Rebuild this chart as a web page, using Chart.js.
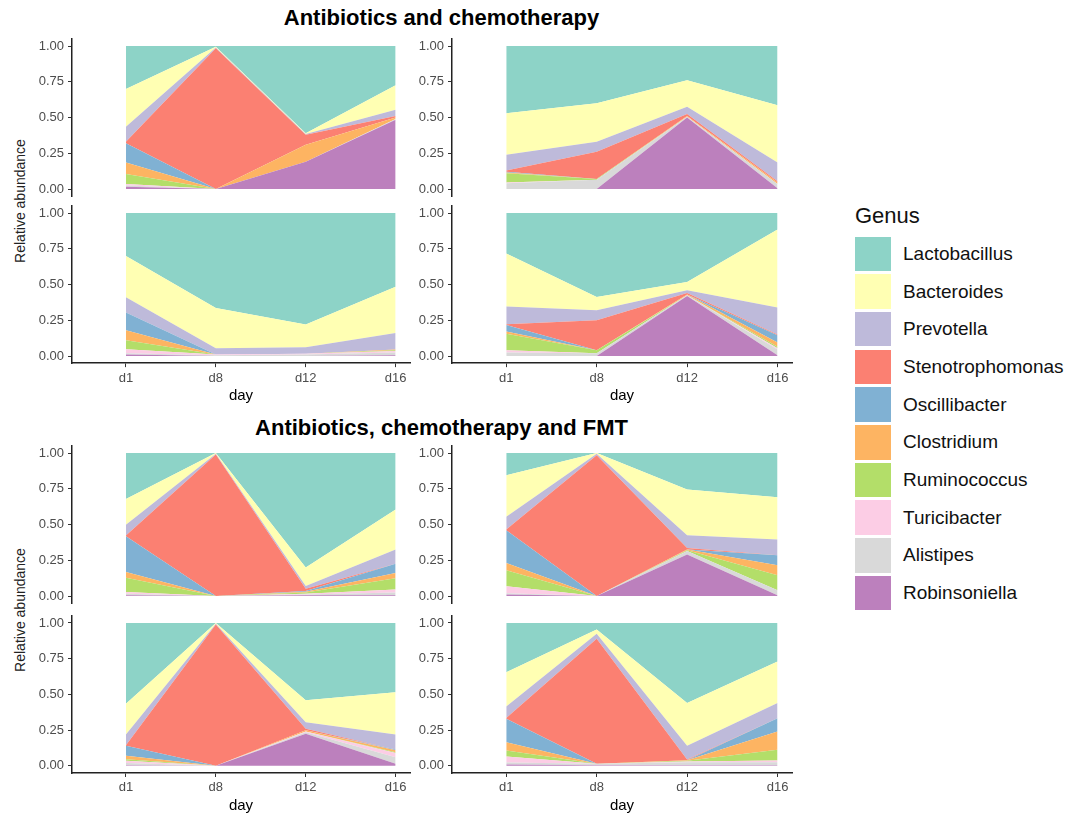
<!DOCTYPE html>
<html>
<head>
<meta charset="utf-8">
<title>Relative abundance by genus</title>
<script src="https://cdn.jsdelivr.net/npm/chart.js@4.4.1/dist/chart.umd.min.js"></script>
<style>
  body { margin: 0; background: #fff; font-family: "Liberation Sans", Arial, sans-serif; }
  #wrap { position: relative; width: 1083px; height: 815px; overflow: hidden; }
  canvas { position: absolute; }
  .title { position: absolute; left: 0; width: 883px; text-align: center; font-weight: bold;
           font-size: 22px; line-height: 26px; color: #000; }
  .ylab { position: absolute; font-size: 14px; color: #222; white-space: nowrap;
          transform: translate(-50%, -50%) rotate(-90deg); }
  #legend { position: absolute; left: 855px; top: 201px; color: #111; }
  #legend .head { font-size: 22px; line-height: 30px; margin-bottom: 4px; }
  #legend .item { display: flex; align-items: center; height: 37.7px; }
  #legend .key { width: 36px; height: 34.5px; margin-right: 12px; }
  #legend .lbl { font-size: 19px; }
</style>
</head>
<body>
<div id="wrap">
  <div class="title" style="top:5px">Antibiotics and chemotherapy</div>
  <div class="title" style="top:415px">Antibiotics, chemotherapy and FMT</div>
  <div class="ylab" style="left:20px; top:201px">Relative abundance</div>
  <div class="ylab" style="left:20px; top:610px">Relative abundance</div>

  <canvas id="p1" width="440" height="190" style="left:0; top:22px"></canvas>
  <canvas id="p2" width="420" height="190" style="left:400px; top:22px"></canvas>
  <canvas id="p3" width="440" height="225" style="left:0; top:190px"></canvas>
  <canvas id="p4" width="420" height="225" style="left:400px; top:190px"></canvas>
  <canvas id="p5" width="440" height="190" style="left:0; top:430px"></canvas>
  <canvas id="p6" width="420" height="190" style="left:400px; top:430px"></canvas>
  <canvas id="p7" width="440" height="215" style="left:0; top:600px"></canvas>
  <canvas id="p8" width="420" height="215" style="left:400px; top:600px"></canvas>

  <div id="legend"></div>
</div>

<script>
const days = ['d1', 'd8', 'd12', 'd16'];
const yTicks = [0, 0.25, 0.5, 0.75, 1];
const genera = ['Lactobacillus', 'Bacteroides', 'Prevotella', 'Stenotrophomonas', 'Oscillibacter',
                'Clostridium', 'Ruminococcus', 'Turicibacter', 'Alistipes', 'Robinsoniella'];
const colors = ['#8DD3C7', '#FFFFB3', '#BEBADA', '#FB8072', '#80B1D3',
                '#FDB462', '#B3DE69', '#FCCDE5', '#D9D9D9', '#BC80BD'];

// one row per genus (same order as genera), one column per day
// antibiotics and chemotherapy
const abxChemo1 = [
  [0.300, 0.005, 0.610, 0.275],
  [0.265, 0.005, 0.005, 0.170],
  [0.105, 0.005, 0.005, 0.045],
  [0.010, 0.985, 0.070, 0.010],
  [0.135, 0, 0, 0],
  [0.080, 0, 0.120, 0.010],
  [0.070, 0, 0, 0],
  [0.010, 0, 0, 0],
  [0.010, 0, 0, 0.005],
  [0.015, 0, 0.190, 0.485]
];
const abxChemo2 = [
  [0.470, 0.400, 0.240, 0.415],
  [0.290, 0.270, 0.185, 0.400],
  [0.110, 0.070, 0.050, 0.130],
  [0.010, 0.190, 0.015, 0.010],
  [0.005, 0, 0, 0],
  [0.005, 0, 0.005, 0.010],
  [0.065, 0.005, 0, 0],
  [0.005, 0, 0, 0],
  [0.040, 0.065, 0.005, 0.030],
  [0, 0, 0.500, 0.005]
];
const abxChemo3 = [
  [0.300, 0.665, 0.780, 0.515],
  [0.290, 0.280, 0.158, 0.325],
  [0.105, 0.045, 0.047, 0.115],
  [0, 0, 0, 0],
  [0.125, 0, 0, 0],
  [0.070, 0, 0, 0.005],
  [0.063, 0, 0, 0.005],
  [0.027, 0.005, 0.005, 0.010],
  [0.010, 0.005, 0.010, 0.020],
  [0.010, 0, 0, 0.005]
];
const abxChemo4 = [
  [0.283, 0.587, 0.483, 0.115],
  [0.370, 0.093, 0.057, 0.545],
  [0.125, 0.070, 0.020, 0.190],
  [0.005, 0.210, 0.010, 0.005],
  [0.045, 0, 0, 0.050],
  [0.016, 0, 0.005, 0.030],
  [0.116, 0.020, 0, 0.010],
  [0.015, 0, 0, 0.010],
  [0.025, 0.020, 0.005, 0.040],
  [0, 0, 0.420, 0.005]
];
// antibiotics, chemotherapy and FMT
const abxFmt1 = [
  [0.322, 0, 0.800, 0.395],
  [0.180, 0.005, 0.130, 0.280],
  [0.075, 0.005, 0.020, 0.100],
  [0.005, 0.990, 0.015, 0],
  [0.250, 0, 0.005, 0.065],
  [0.040, 0, 0.005, 0.035],
  [0.100, 0, 0.010, 0.080],
  [0.013, 0, 0.005, 0.020],
  [0.010, 0, 0.005, 0.020],
  [0.005, 0, 0.005, 0.005]
];
const abxFmt2 = [
  [0.155, 0, 0.255, 0.310],
  [0.290, 0.005, 0.320, 0.295],
  [0.090, 0.010, 0.090, 0.110],
  [0.005, 0.985, 0.010, 0],
  [0.230, 0, 0, 0.070],
  [0.050, 0, 0.005, 0.070],
  [0.112, 0, 0.005, 0.105],
  [0.048, 0, 0, 0],
  [0.010, 0, 0.025, 0.035],
  [0.010, 0, 0.290, 0.005]
];
const abxFmt3 = [
  [0.565, 0, 0.540, 0.485],
  [0.215, 0.005, 0.155, 0.295],
  [0.075, 0.005, 0.045, 0.105],
  [0.005, 0.990, 0.010, 0],
  [0.070, 0, 0, 0.005],
  [0.023, 0, 0.010, 0.015],
  [0.012, 0, 0, 0.005],
  [0.015, 0, 0.005, 0.030],
  [0.015, 0, 0.010, 0.045],
  [0.005, 0, 0.225, 0.015]
];
const abxFmt4 = [
  [0.345, 0.045, 0.560, 0.270],
  [0.240, 0.030, 0.300, 0.290],
  [0.080, 0.035, 0.095, 0.106],
  [0.005, 0.875, 0.005, 0],
  [0.164, 0, 0, 0.094],
  [0.059, 0, 0.005, 0.128],
  [0.042, 0, 0.005, 0.075],
  [0.042, 0, 0.005, 0.012],
  [0.013, 0.010, 0.020, 0.020],
  [0.010, 0.005, 0.005, 0.005]
];

Chart.defaults.font.family = '"Liberation Sans", Arial, sans-serif';

function drawPanel(id, rows, showX, axisW, pad) {
  // stack from the bottom: last genus first
  const sets = genera.map((g, i) => ({
    label: g,
    data: rows[i].map((v, j) => ({ x: j, y: v })),
    backgroundColor: colors[i],
    borderColor: 'rgba(0,0,0,0)',
    borderWidth: 0,
    pointRadius: 0,
    pointHoverRadius: 0,
    tension: 0
  })).reverse();
  sets.forEach((s, i) => { s.fill = i === 0 ? 'origin' : '-1'; });

  const axisGrid = { drawOnChartArea: false, drawTicks: true, tickLength: 4, color: '#333', lineWidth: 1 };
  const axisBorder = { display: true, color: '#222', width: 1.5 };

  new Chart(document.getElementById(id), {
    type: 'line',
    data: { datasets: sets },
    options: {
      responsive: false,
      animation: false,
      events: [],
      layout: { padding: pad },
      plugins: { legend: { display: false }, tooltip: { enabled: false } },
      scales: {
        x: {
          type: 'linear',
          min: -0.6,
          max: 3.16,
          display: showX,
          afterBuildTicks: s => { s.ticks = days.map((d, i) => ({ value: i })); },
          afterFit: s => { if (showX) s.height = 42; },
          ticks: { callback: v => days[v], color: '#4d4d4d', font: { size: 13 }, padding: 3,
                   autoSkip: false, maxRotation: 0 },
          grid: axisGrid,
          border: axisBorder,
          title: { display: true, text: 'day', color: '#000', font: { size: 15 }, padding: 0 }
        },
        y: {
          stacked: true,
          min: -0.05,
          max: 1.05,
          afterBuildTicks: s => { s.ticks = yTicks.map(v => ({ value: v })); },
          afterFit: s => { s.width = axisW; },
          ticks: { callback: v => v.toFixed(2), color: '#4d4d4d', font: { size: 13 }, padding: 4 },
          grid: axisGrid,
          border: axisBorder
        }
      }
    }
  });
}

drawPanel('p1', abxChemo1, false, 72, { top: 16.85, bottom: 15.85, left: 0, right: 30 });
drawPanel('p2', abxChemo2, false, 52, { top: 16.85, bottom: 15.85, left: 0, right: 28 });
drawPanel('p3', abxChemo3, true, 72, { top: 15.85, bottom: 9.85, left: 0, right: 30 });
drawPanel('p4', abxChemo4, true, 52, { top: 15.85, bottom: 9.85, left: 0, right: 28 });
drawPanel('p5', abxFmt1, false, 72, { top: 15.85, bottom: 16.85, left: 0, right: 30 });
drawPanel('p6', abxFmt2, false, 52, { top: 15.85, bottom: 16.85, left: 0, right: 28 });
drawPanel('p7', abxFmt3, true, 72, { top: 15.85, bottom: 0, left: 0, right: 30 });
drawPanel('p8', abxFmt4, true, 52, { top: 15.85, bottom: 0, left: 0, right: 28 });

// legend
const legend = document.getElementById('legend');
legend.innerHTML = '<div class="head">Genus</div>' + genera.map((g, i) =>
  '<div class="item"><div class="key" style="background:' + colors[i] + '"></div>' +
  '<div class="lbl">' + g + '</div></div>').join('');
</script>
</body>
</html>
